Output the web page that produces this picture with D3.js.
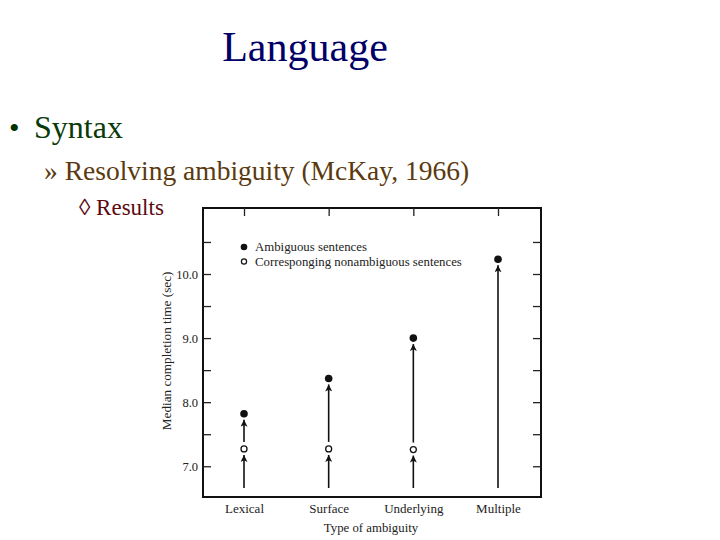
<!DOCTYPE html>
<html>
<head>
<meta charset="utf-8">
<script src="https://cdn.jsdelivr.net/npm/d3@7"></script>
<style>
  body { margin: 0; background: #fff; }
  svg { display: block; }
</style>
</head>
<body>
<svg class="slide" width="720" height="540"></svg>
<script>
const width = 720;
const height = 540;

// chart data
const categories = ["Lexical", "Surface", "Underlying", "Multiple"];
const ambiguous = [7.82, 8.37, 9.0, 10.23];
const nonambiguous = [7.27, 7.27, 7.26, null];
const yTicks = [7.0, 7.5, 8.0, 8.5, 9.0, 9.5, 10.0, 10.5];
const yDomain = [6.52, 11.03];
const arrowBase = 6.66;

const legendLabels = ["Ambiguous sentences", "Corresponging nonambiguous sentences"];

const svg = d3.select(".slide");

// slide text
svg.append("text")
  .attr("x", 305).attr("y", 61)
  .attr("text-anchor", "middle")
  .attr("font-family", "Liberation Serif, serif")
  .attr("font-size", 42)
  .attr("fill", "#000066")
  .text("Language");

svg.append("text")
  .attr("x", 9).attr("y", 138)
  .attr("font-family", "Liberation Serif, serif")
  .attr("font-size", 30)
  .attr("fill", "#003300")
  .text("•");
svg.append("text")
  .attr("x", 34).attr("y", 138)
  .attr("font-family", "Liberation Serif, serif")
  .attr("font-size", 32)
  .attr("fill", "#0a3a0a")
  .text("Syntax");

svg.append("text")
  .attr("x", 44).attr("y", 180)
  .attr("font-family", "Liberation Serif, serif")
  .attr("font-size", 27.5)
  .attr("fill", "#5c3a10")
  .text("» Resolving ambiguity (McKay, 1966)");

svg.append("text")
  .attr("x", 79).attr("y", 215)
  .attr("font-family", "Liberation Serif, serif")
  .attr("font-size", 23)
  .attr("fill", "#5a0a10")
  .text("◊ Results");

// chart
const plotL = 203, plotR = 541, plotT = 208, plotB = 497;

const x = d3.scalePoint().domain(categories).range([244, 498]);
const y = d3.scaleLinear().domain(yDomain).range([plotB, plotT]);

const chart = svg.append("g")
  .attr("font-family", "Liberation Serif, serif");

chart.append("rect")
  .attr("x", plotL).attr("y", plotT)
  .attr("width", plotR - plotL).attr("height", plotB - plotT)
  .attr("fill", "none")
  .attr("stroke", "#111")
  .attr("stroke-width", 2);

const fmt = d3.format(".1f");

const leftAxis = chart.append("g")
  .attr("transform", `translate(${plotL},0)`)
  .call(d3.axisLeft(y).tickValues(yTicks).tickSizeInner(-8).tickSizeOuter(0).tickPadding(5)
    .tickFormat(d => (d % 1 === 0 ? fmt(d) : "")));
leftAxis.select(".domain").remove();
leftAxis.selectAll("text").attr("font-family", "Liberation Serif, serif").attr("font-size", 12.5).attr("fill", "#222");
leftAxis.selectAll("line").attr("stroke", "#222").attr("stroke-width", 1.3);

const rightAxis = chart.append("g")
  .attr("transform", `translate(${plotR},0)`)
  .call(d3.axisRight(y).tickValues(yTicks).tickSizeInner(-8).tickSizeOuter(0).tickFormat(""));
rightAxis.select(".domain").remove();
rightAxis.selectAll("line").attr("stroke", "#222").attr("stroke-width", 1.3);

const topAxis = chart.append("g")
  .attr("transform", `translate(0,${plotT})`)
  .call(d3.axisTop(x).tickSizeInner(-8).tickSizeOuter(0).tickFormat(""));
topAxis.select(".domain").remove();
topAxis.selectAll("line").attr("stroke", "#222").attr("stroke-width", 1.3);

const bottomAxis = chart.append("g")
  .attr("transform", `translate(0,${plotB})`)
  .call(d3.axisBottom(x).tickSize(0).tickPadding(7));
bottomAxis.select(".domain").remove();
bottomAxis.selectAll("text").attr("font-family", "Liberation Serif, serif").attr("font-size", 13).attr("fill", "#222");

chart.append("text")
  .attr("x", (plotL + plotR) / 2 - 1).attr("y", 532)
  .attr("text-anchor", "middle")
  .attr("font-size", 12.8)
  .attr("fill", "#222")
  .text("Type of ambiguity");

chart.append("text")
  .attr("transform", `translate(171,${y(8.8)}) rotate(-90)`)
  .attr("text-anchor", "middle")
  .attr("font-size", 13.2)
  .attr("fill", "#222")
  .text("Median completion time (sec)");

// arrowhead
svg.append("defs").append("marker")
  .attr("id", "head")
  .attr("viewBox", "0 0 10 10")
  .attr("refX", 10).attr("refY", 5)
  .attr("markerWidth", 10).attr("markerHeight", 7)
  .attr("markerUnits", "userSpaceOnUse")
  .attr("orient", "auto")
  .append("path")
  .attr("d", "M0,0 L10,5 L0,10 L2.5,5 Z")
  .attr("fill", "#111");

const segs = [];
categories.forEach((c, i) => {
  const na = nonambiguous[i];
  if (na != null) {
    segs.push({ c, y0: y(arrowBase), y1: y(na) + 6 });
    segs.push({ c, y0: y(na) - 7, y1: y(ambiguous[i]) + 6 });
  } else {
    segs.push({ c, y0: y(arrowBase), y1: y(ambiguous[i]) + 6 });
  }
});

chart.selectAll(".arrow")
  .data(segs)
  .enter()
  .append("line")
  .attr("class", "arrow")
  .attr("x1", d => x(d.c)).attr("x2", d => x(d.c))
  .attr("y1", d => d.y0).attr("y2", d => d.y1)
  .attr("stroke", "#111")
  .attr("stroke-width", 1.6)
  .attr("marker-end", "url(#head)");

chart.selectAll(".amb")
  .data(categories)
  .enter()
  .append("circle")
  .attr("class", "amb")
  .attr("cx", d => x(d))
  .attr("cy", (d, i) => y(ambiguous[i]))
  .attr("r", 3.8)
  .attr("fill", "#111");

chart.selectAll(".nonamb")
  .data(categories.filter((d, i) => nonambiguous[i] != null))
  .enter()
  .append("circle")
  .attr("class", "nonamb")
  .attr("cx", d => x(d))
  .attr("cy", d => y(nonambiguous[categories.indexOf(d)]))
  .attr("r", 3)
  .attr("fill", "#fff")
  .attr("stroke", "#111")
  .attr("stroke-width", 1.3);

// legend
const legend = chart.append("g");
legendLabels.forEach((t, i) => {
  const ly = 247 + i * 14.5;
  legend.append("circle")
    .attr("cx", 244).attr("cy", ly)
    .attr("r", i === 0 ? 3.3 : 2.6)
    .attr("fill", i === 0 ? "#111" : "#fff")
    .attr("stroke", "#111")
    .attr("stroke-width", i === 0 ? 0 : 1.2);
  legend.append("text")
    .attr("x", 255).attr("y", ly + 4)
    .attr("font-size", 12.8)
    .attr("fill", "#222")
    .text(t);
});
</script>
</body>
</html>
